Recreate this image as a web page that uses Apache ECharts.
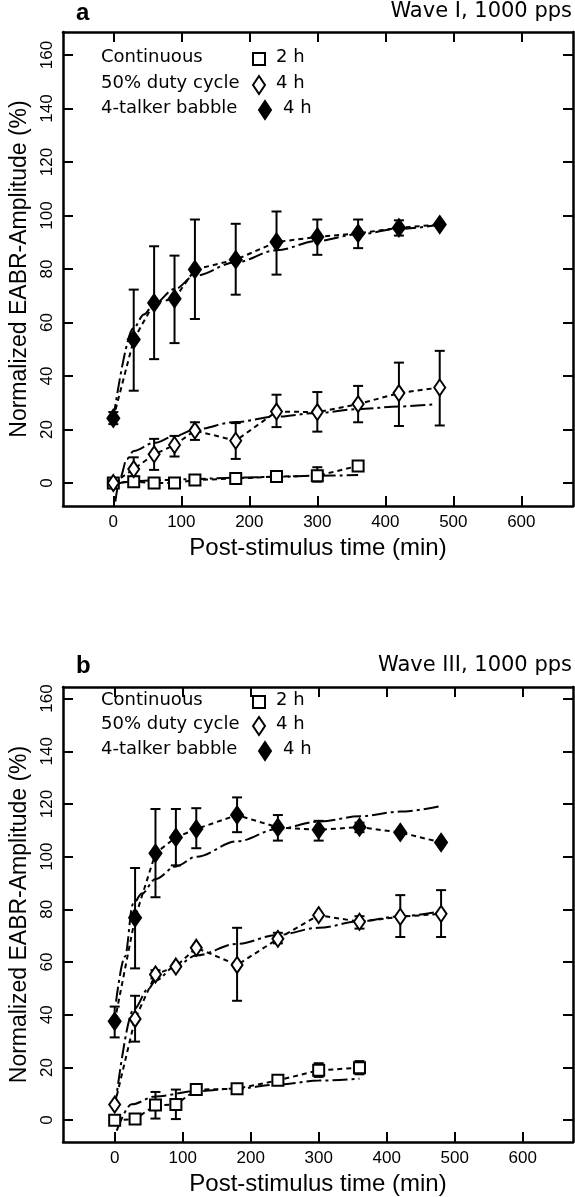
<!DOCTYPE html>
<html><head><meta charset="utf-8">
<script src="https://cdn.jsdelivr.net/npm/echarts@6/dist/echarts.min.js"></script>
<style>html,body{margin:0;padding:0;background:#fff}#c{width:575px;height:1197px}</style>
</head><body><div id="c"></div>
<script>
// ---------- tick labels ----------
const xTicks = [0, 100, 200, 300, 400, 500, 600];
const yTicks = [0, 20, 40, 60, 80, 100, 120, 140, 160];

// ---------- sample times (min) ----------
const times = [0, 30, 60, 90, 120, 180, 240, 300, 360, 420, 480];
const contTimes = [0, 30, 60, 90, 120, 180, 240, 300, 360];

// ---------- Panel a : Wave I ----------
const aContMean = [0, 0.5, 0, 0, 1.1, 1.7, 2.4, 2.7, 6.4];
const aContLo   = [null, null, null, null, null, null, null, 0.5, null];
const aContHi   = [null, null, null, null, null, null, null, 5.9, null];
const aDutyMean = [0, 5.2, 10.7, 14.2, 19.6, 15.8, 26.7, 26.5, 29.5, 33.6, 35.7];
const aDutyLo   = [null, 2.4, 4.9, 9.9, 16.1, 9.0, 20.9, 19.2, 22.7, 21.3, 21.5];
const aDutyHi   = [null, 9.6, 16.5, 17.6, 22.7, 22.4, 33.0, 34.0, 36.3, 45.0, 49.4];
const aBabMean  = [24.2, 53.6, 67.3, 68.9, 79.8, 83.5, 90.1, 92.0, 93.3, 95.4, 96.6];
const aBabLo    = [22.0, 34.5, 46.3, 52.3, 61.3, 70.4, 77.9, 85.3, 87.8, 92.5, null];
const aBabHi    = [26.5, 72.3, 88.5, 85.0, 98.5, 96.9, 101.5, 98.5, 98.5, 98.2, null];
// fitted curves
const aFitContX = [0, 20, 60, 120, 180, 240, 300, 360];
const aFitContY = [-1, 0.5, 1, 1.5, 2, 2.3, 2.7, 3];
const aFitDutyX = [3, 10, 20, 30, 60, 90, 120, 180, 240, 300, 360, 420, 475];
const aFitDutyY = [-7, 2, 9, 12, 15, 17.5, 20, 22.8, 24.8, 26.2, 27.6, 28.6, 29.5];
const aFitBabX  = [0, 30, 45, 60, 90, 120, 180, 240, 300, 360, 420, 480];
const aFitBabY  = [24, 58, 63, 67, 72.5, 77.5, 82.5, 87, 90.5, 93, 95, 96.5];

// ---------- Panel b : Wave III ----------
const bContMean = [0, 0.4, 5.7, 5.9, 11.6, 11.9, 15.1, 18.9, 19.9];
const bContLo   = [null, null, 0.6, 0.4, null, null, null, 16.4, 17.4];
const bContHi   = [null, null, 10.7, 11.6, null, null, null, 21.6, 22.4];
const bDutyMean = [5.9, 38.4, 55.3, 58.3, 65.4, 58.9, 68.8, 77.8, 75.3, 77.2, 78.3];
const bDutyLo   = [null, 29.8, 53.8, null, null, 45.3, 67.1, null, 72.7, 69.5, 69.5];
const bDutyHi   = [null, 47.2, 56.9, null, null, 73.0, 71.1, null, 77.4, 85.4, 87.3];
const bBabMean  = [37.5, 76.8, 101.3, 107.3, 110.5, 115.8, 111.1, 110.2, 111.2, 109.2, 105.4];
const bBabLo    = [31.4, 57.6, 84.6, 96.7, 103.2, 109.3, 106.1, 106.1, 109.3, null, null];
const bBabHi    = [43.1, 95.7, 118.1, 118.1, 118.4, 122.5, 115.8, 113.6, 112.9, null, null];
const bFitContX = [3, 25, 60, 120, 180, 240, 300, 360];
const bFitContY = [-4, 6, 9, 11, 12, 13.5, 15, 15.7];
const bFitDutyX = [0, 28, 50, 60, 90, 120, 180, 240, 300, 360, 420, 480];
const bFitDutyY = [4, 42, 50, 53, 58.5, 62.5, 66.9, 70.3, 73, 75.4, 77.4, 79.3];
const bFitBabX  = [2, 15, 27, 40, 60, 90, 120, 180, 240, 300, 360, 420, 480];
const bFitBabY  = [45, 62, 82, 86, 91.5, 96.3, 100, 105.8, 110.5, 113.3, 115.3, 117.1, 119.2];

// ---------- text ----------
const panelLetters = ['a', 'b'];
const panelTitles = ['Wave I, 1000 pps', 'Wave III, 1000 pps'];
const legendNames = ['Continuous', '50% duty cycle', '4-talker babble'];
const legendDur = ['2 h', '4 h', '4 h'];
const xName = 'Post-stimulus time (min)';
const yName = 'Normalized EABR-Amplitude (%)';

const FONT = 'Liberation Sans, Arial, sans-serif';
const LFONT = 'DejaVu Sans, sans-serif';
const zip = (xs, ys) => xs.map((x, i) => [x, ys[i]]);
const errData = (xs, lo, hi) => xs.map((x, i) => [x, lo[i], hi[i]]).filter(d => d[1] != null);

const panels = [
  { top: 32, height: 474, xMin: -74, xMax: 676, yMin: -8.6, yMax: 168.6,
    cont: [contTimes, aContMean, aContLo, aContHi], duty: [times, aDutyMean, aDutyLo, aDutyHi], bab: [times, aBabMean, aBabLo, aBabHi],
    fits: [[aFitContX, aFitContY], [aFitDutyX, aFitDutyY], [aFitBabX, aFitBabY]] },
  { top: 687, height: 458, xMin: -76, xMax: 674, yMin: -8.3, yMax: 164.4,
    cont: [contTimes, bContMean, bContLo, bContHi], duty: [times, bDutyMean, bDutyLo, bDutyHi], bab: [times, bBabMean, bBabLo, bBabHi],
    fits: [[bFitContX, bFitContY], [bFitDutyX, bFitDutyY], [bFitBabX, bFitBabY]] }
];

function errRender(params, api) {
  const x = api.value(0), lo = api.value(1), hi = api.value(2);
  const p1 = api.coord([x, lo]), p2 = api.coord([x, hi]);
  const w = 5, st = { stroke: '#000', lineWidth: 2 };
  return { type: 'group', children: [
    { type: 'line', shape: { x1: p1[0], y1: p1[1], x2: p2[0], y2: p2[1] }, style: st },
    { type: 'line', shape: { x1: p1[0] - w, y1: p1[1], x2: p1[0] + w, y2: p1[1] }, style: st },
    { type: 'line', shape: { x1: p2[0] - w, y1: p2[1], x2: p2[0] + w, y2: p2[1] }, style: st }
  ]};
}

const grid = [], xAxis = [], yAxis = [], series = [], graphic = [];
const axLine = { show: true, onZero: false, lineStyle: { color: '#000', width: 2.5 } };
const markerDefs = [
  { key: 'cont', symbol: 'rect', size: 11, fill: '#fff' },
  { key: 'duty', symbol: 'diamond', size: [11, 16], fill: '#fff' },
  { key: 'bab', symbol: 'diamond', size: [12, 17], fill: '#000' }
];

panels.forEach((p, pi) => {
  grid.push({ left: 63, right: 2, top: p.top, height: p.height, show: false });
  const xi = xAxis.length, yi = yAxis.length;
  xAxis.push({ gridIndex: pi, type: 'value', position: 'bottom', min: p.xMin, max: p.xMax,
    axisLine: axLine, splitLine: { show: false },
    axisTick: { inside: true, length: 10, lineStyle: { color: '#000', width: 2 }, customValues: xTicks },
    axisLabel: { customValues: xTicks, fontSize: 17, color: '#000', fontFamily: FONT, margin: 8 },
    name: xName, nameLocation: 'middle', nameGap: 30,
    nameTextStyle: { fontSize: 24, color: '#000', fontFamily: FONT } });
  xAxis.push({ gridIndex: pi, type: 'value', position: 'top', min: p.xMin, max: p.xMax,
    axisLine: axLine, splitLine: { show: false },
    axisTick: { inside: true, length: 10, lineStyle: { color: '#000', width: 2 }, customValues: xTicks },
    axisLabel: { show: false } });
  yAxis.push({ gridIndex: pi, type: 'value', position: 'left', min: p.yMin, max: p.yMax,
    axisLine: axLine, splitLine: { show: false },
    axisTick: { inside: true, length: 10, lineStyle: { color: '#000', width: 2 }, customValues: yTicks },
    axisLabel: { customValues: yTicks, rotate: 90, fontSize: 17, color: '#000', fontFamily: FONT, margin: 7 },
    name: yName, nameLocation: 'middle', nameGap: 30,
    nameTextStyle: { fontSize: 23, color: '#000', fontFamily: FONT } });
  yAxis.push({ gridIndex: pi, type: 'value', position: 'right', min: p.yMin, max: p.yMax,
    axisLine: axLine, splitLine: { show: false },
    axisTick: { inside: true, length: 10, lineStyle: { color: '#000', width: 2 }, customValues: yTicks },
    axisLabel: { show: false } });

  // fitted curves
  p.fits.forEach(f => series.push({ type: 'line', xAxisIndex: xi, yAxisIndex: yi, data: zip(f[0], f[1]),
    smooth: 0.35, smoothMonotone: 'x', symbol: 'none', z: 1, silent: true,
    lineStyle: { color: '#000', width: 2, type: [15, 4, 3, 4] } }));

  markerDefs.forEach(m => {
    const d = p[m.key];
    series.push({ type: 'custom', xAxisIndex: xi, yAxisIndex: yi, renderItem: errRender,
      data: errData(d[0], d[2], d[3]), encode: { x: 0, y: [1, 2] }, z: 2, silent: true });
    series.push({ type: 'line', xAxisIndex: xi, yAxisIndex: yi, data: zip(d[0], d[1]),
      symbol: m.symbol, symbolSize: m.size, showAllSymbol: true, z: 3, silent: true,
      lineStyle: { color: '#000', width: 2, type: [5, 4] },
      itemStyle: { color: m.fill, borderColor: '#000', borderWidth: 2, opacity: 1 } });
  });

  // panel letter and title
  graphic.push({ type: 'text', left: 76, top: p.top - (pi === 0 ? 31 : 33),
    style: { text: panelLetters[pi], font: 'bold 24px ' + FONT, fill: '#000' } });
  graphic.push({ type: 'text', right: 3, top: p.top - (pi === 0 ? 31 : 32),
    style: { text: panelTitles[pi], font: '21px ' + LFONT, fill: '#000' } });

  // legend block
  const rows = pi === 0 ? [59, 85, 110] : [702, 726, 751];
  const symX = [259, 259, 265];
  const durX = [276, 276, 283];
  rows.forEach((ry, k) => {
    graphic.push({ type: 'text', left: 101, top: ry - 11,
      style: { text: legendNames[k], font: '18px ' + LFONT, fill: '#000' } });
    graphic.push({ type: 'text', left: durX[k], top: ry - 11,
      style: { text: legendDur[k], font: '18px ' + LFONT, fill: '#000' } });
    const sx = symX[k];
    if (k === 0) {
      graphic.push({ type: 'rect', shape: { x: sx - 6, y: ry - 6, width: 12, height: 12 },
        style: { fill: '#fff', stroke: '#000', lineWidth: 2 } });
    } else {
      const hw = 6, hh = 9;
      graphic.push({ type: 'polygon', shape: { points: [[sx, ry - hh], [sx + hw, ry], [sx, ry + hh], [sx - hw, ry]] },
        style: { fill: k === 1 ? '#fff' : '#000', stroke: '#000', lineWidth: 2 } });
    }
  });
});

const chart = echarts.init(document.getElementById('c'), null, { renderer: 'canvas' });
chart.setOption({ animation: false, backgroundColor: '#fff', grid, xAxis, yAxis, series, graphic });
</script></body></html>
